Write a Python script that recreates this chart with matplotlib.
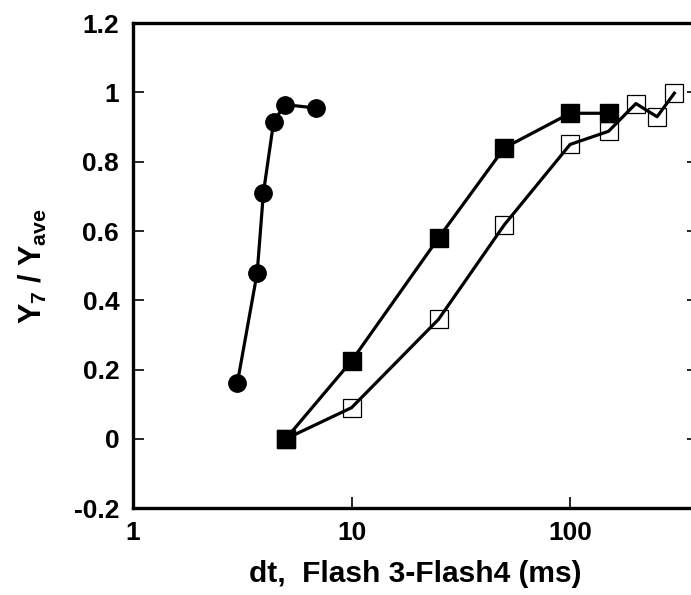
import matplotlib
matplotlib.use('Agg')
import matplotlib.pyplot as plt
import numpy as np

plt.rcParams['font.family'] = 'Liberation Sans'
plt.rcParams['font.weight'] = 'bold'
plt.rcParams['mathtext.fontset'] = 'custom'
plt.rcParams['mathtext.rm'] = 'Liberation Sans:bold'
plt.rcParams['mathtext.it'] = 'Liberation Sans:bold'
plt.rcParams['mathtext.bf'] = 'Liberation Sans:bold'

# ======================== DATA ========================
# filled circles
circ_x = [3.0, 3.7, 3.95, 4.4, 4.95, 6.9]
circ_y = [0.16, 0.48, 0.71, 0.915, 0.965, 0.955]

# filled squares
fsq_x = [5, 10, 25, 50, 100, 150]
fsq_y = [0.0, 0.225, 0.58, 0.84, 0.94, 0.94]

# open squares
osq_x = [5, 10, 25, 50, 100, 150, 200, 250, 300]
osq_y = [0.0, 0.09, 0.345, 0.618, 0.85, 0.888, 0.968, 0.93, 0.998]

yticks = [-0.2, 0, 0.2, 0.4, 0.6, 0.8, 1, 1.2]
ytick_labels = ['-0.2', '0', '0.2', '0.4', '0.6', '0.8', '1', '1.2']

# ======================== PLOT ========================
fig = plt.figure(figsize=(6.91, 5.95), dpi=100)
ax = fig.add_axes([0.1925, 0.146, 0.8177, 0.815])

ax.plot(osq_x, osq_y, color='black', lw=2.3, marker='s', ms=12.5,
        mfc='none', mec='black', mew=0.9)
ax.plot(fsq_x, fsq_y, color='black', lw=2.3, marker='s', ms=12.5, mfc='black', mec='black')
ax.plot(circ_x, circ_y, color='black', lw=2.3, marker='o', ms=12.5, mfc='black', mec='black')

ax.set_xscale('log')
ax.set_xlim(1, 385)
ax.set_ylim(-0.2, 1.2)
ax.set_xticks([1, 10, 100])
ax.set_xticklabels(['1', '10', '100'])
ax.xaxis.set_minor_locator(matplotlib.ticker.NullLocator())
ax.set_yticks(yticks)
ax.set_yticklabels(ytick_labels)

for sp in ax.spines.values():
    sp.set_linewidth(2.4)

ax.tick_params(axis='both', direction='in', length=8, width=1.2, labelsize=19, right=True)
ax.tick_params(axis='y', pad=10)
ax.tick_params(axis='x', pad=9)

ax.set_xlabel('dt,  Flash 3-Flash4 (ms)', fontsize=21.5, fontweight='bold', labelpad=11)
ax.set_ylabel(r'$Y_7$ / $Y_{ave}$', fontsize=22, fontweight='bold', labelpad=18)

fig.savefig('out.png', dpi=100)
